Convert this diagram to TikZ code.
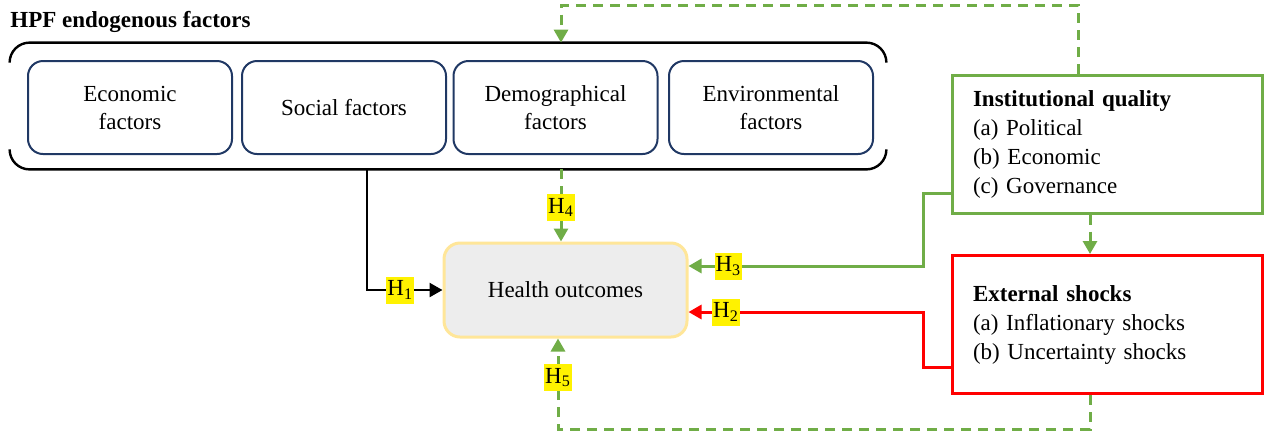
\documentclass[tikz,border=0pt]{standalone}
\usepackage{fontspec}
\setmainfont{Liberation Serif}
\usetikzlibrary{arrows.meta}
\definecolor{navy}{HTML}{203864}
\definecolor{grn}{HTML}{70AD47}
\definecolor{hpfred}{HTML}{FF0000}
\definecolor{hbord}{HTML}{FFE699}
\definecolor{hfill}{HTML}{EDEDED}
\begin{document}
\begin{tikzpicture}[x=0.5pt,y=-0.5pt,
    >={Triangle[width=7pt,length=6.5pt]},
    every node/.style={font=\fontsize{11.5}{14}\selectfont},
    factor/.style={draw=navy,line width=1pt,rounded corners=7.5pt,
      minimum width=102pt,minimum height=46.5pt,align=center,inner sep=2pt},
    health/.style={draw=hbord,fill=hfill,line width=1.5pt,rounded corners=8pt,
      minimum width=121.5pt,minimum height=47pt},
    infobox/.style={line width=1.5pt,minimum width=155pt,minimum height=69pt,
      text width=134pt,inner xsep=10.5pt,align=left,
      font=\fontsize{11.5}{14.5}\selectfont},
    hlab/.style={fill=yellow,inner xsep=0.5pt,inner ysep=0pt,minimum height=13.5pt},
    bracket/.style={line width=1.2pt},
    blkline/.style={line width=1.2pt},
    gline/.style={draw=grn,line width=1.5pt},
    rline/.style={draw=hpfred,line width=1.5pt},
    gdash/.style={draw=grn,line width=1.5pt,dash pattern=on 5pt off 3.5pt}]
  \useasboundingbox (0,0) rectangle (1267,435);
  %\draw[very thin,gray,step=50] (0,0) grid (1267,435);

  % endogenous factors
  \node[font=\fontsize{11.5}{14}\selectfont\bfseries,anchor=base west,inner sep=0]
    (title) at (10,27) {HPF endogenous factors};
  \node[minimum width=438pt,minimum height=63pt,inner sep=0] (endo) at (448,106) {};
  \draw[bracket] ([yshift=-10pt]endo.north west) arc[start angle=180,end angle=90,radius=10pt]
    -- ([xshift=-10pt]endo.north east) arc[start angle=90,end angle=0,radius=10pt];
  \draw[bracket] ([yshift=10pt]endo.south west) arc[start angle=180,end angle=270,radius=10pt]
    -- ([xshift=-10pt]endo.south east) arc[start angle=270,end angle=360,radius=10pt];
  \node[factor] (econ) at (130,107.5) {Economic\\factors};
  \node[factor] (soc) at (344,107.5) {Social factors};
  \node[factor] (demo) at (555.5,107.5) {Demographical\\factors};
  \node[factor] (env) at (771,107.5) {Environmental\\factors};

  \node[health] (health) at (565.5,290) {Health outcomes};

  \node[infobox,draw=grn] (inst) at (1107,144)
    {\textbf{Institutional quality}\\(a) Political\\(b) Economic\\(c) Governance};
  \node[infobox,draw=hpfred] (shock) at (1107,324.5)
    {\textbf{External shocks}\\(a) Inflationary shocks\\(b) Uncertainty shocks};

  \coordinate (topturn) at (561,5);
  \coordinate (hone) at (367,169);
  \coordinate (hthree) at (923,266);
  \coordinate (htwo) at (923,312);
  \coordinate (botturn) at (558,429);

  % hypotheses
  \draw[blkline,->] (hone) |- (health.west) node[hlab,pos=0.72] {H\textsubscript{1}};
  \draw[gdash,->] (endo.south -| topturn) -- (health.north -| topturn)
    node[hlab,pos=0.53] {H\textsubscript{4}};
  \draw[gline,->] ([yshift=-24.5pt]inst.west) -| (hthree) -- (health.east |- hthree)
    node[hlab,pos=0.83] {H\textsubscript{3}};
  \draw[rline,->] ([yshift=-21.25pt]shock.west) -| (htwo) -- (health.east |- htwo)
    node[hlab,pos=0.84] {H\textsubscript{2}};
  \draw[gdash,->] ([xshift=-8.5pt]shock.south) |- (botturn) -- (health.south -| botturn)
    node[hlab,pos=0.57] {H\textsubscript{5}};

  % feedback loops
  \draw[gdash,->] ([xshift=-14.5pt]inst.north) |- (topturn) -- (endo.north -| topturn);
  \draw[gdash,->] ([xshift=-8.5pt]inst.south) -- ([xshift=-8.5pt]shock.north);
\end{tikzpicture}
\end{document}
